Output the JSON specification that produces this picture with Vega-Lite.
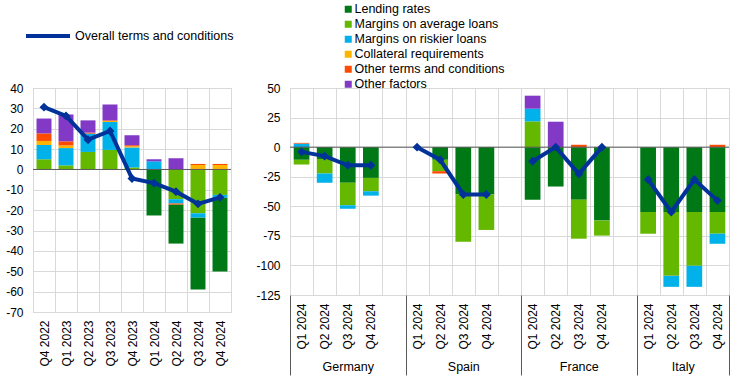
{
  "$schema": "https://vega.github.io/schema/vega-lite/v6.json",
  "padding": {"left": 5, "top": 2, "right": 5, "bottom": 0},
  "background": "white",
  "config": {
    "font": "Liberation Sans",
    "view": {"stroke": "#d9d9d9"},
    "axis": {"labelFont": "Liberation Sans", "labelFontSize": 12, "labelColor": "#000000", "gridColor": "#d9d9d9", "domain": false, "ticks": false},
    "legend": {"labelFont": "Liberation Sans", "labelFontSize": 12.5, "labelColor": "#000000"}
  },
  "datasets": {
    "left": [
      {"q": "Q4 2022", "f": "Margins on average loans", "v": 5},
      {"q": "Q4 2022", "f": "Margins on riskier loans", "v": 7},
      {"q": "Q4 2022", "f": "Collateral requirements", "v": 2},
      {"q": "Q4 2022", "f": "Other terms and conditions", "v": 3.7},
      {"q": "Q4 2022", "f": "Other factors", "v": 7.3},
      {"q": "Q1 2023", "f": "Margins on average loans", "v": 2},
      {"q": "Q1 2023", "f": "Margins on riskier loans", "v": 8.5},
      {"q": "Q1 2023", "f": "Collateral requirements", "v": 1.3},
      {"q": "Q1 2023", "f": "Other terms and conditions", "v": 2},
      {"q": "Q1 2023", "f": "Other factors", "v": 13.2},
      {"q": "Q2 2023", "f": "Margins on average loans", "v": 8.6},
      {"q": "Q2 2023", "f": "Margins on riskier loans", "v": 9},
      {"q": "Q2 2023", "f": "Other terms and conditions", "v": 0.5},
      {"q": "Q2 2023", "f": "Other factors", "v": 6},
      {"q": "Q3 2023", "f": "Margins on average loans", "v": 9.6},
      {"q": "Q3 2023", "f": "Margins on riskier loans", "v": 13.7},
      {"q": "Q3 2023", "f": "Collateral requirements", "v": 0.5},
      {"q": "Q3 2023", "f": "Other terms and conditions", "v": 0.3},
      {"q": "Q3 2023", "f": "Other factors", "v": 7.8},
      {"q": "Q4 2023", "f": "Margins on average loans", "v": 1},
      {"q": "Q4 2023", "f": "Margins on riskier loans", "v": 9.8},
      {"q": "Q4 2023", "f": "Collateral requirements", "v": 0.6},
      {"q": "Q4 2023", "f": "Other terms and conditions", "v": 0.5},
      {"q": "Q4 2023", "f": "Other factors", "v": 4.9},
      {"q": "Q1 2024", "f": "Lending rates", "v": -22.6},
      {"q": "Q1 2024", "f": "Margins on riskier loans", "v": 4},
      {"q": "Q1 2024", "f": "Other factors", "v": 1},
      {"q": "Q2 2024", "f": "Lending rates", "v": -19.2},
      {"q": "Q2 2024", "f": "Margins on average loans", "v": -14.6},
      {"q": "Q2 2024", "f": "Margins on riskier loans", "v": -2.1},
      {"q": "Q2 2024", "f": "Other terms and conditions", "v": -0.5},
      {"q": "Q2 2024", "f": "Other factors", "v": 5.5},
      {"q": "Q3 2024", "f": "Lending rates", "v": -35.3},
      {"q": "Q3 2024", "f": "Margins on average loans", "v": -21.5},
      {"q": "Q3 2024", "f": "Margins on riskier loans", "v": -2.1},
      {"q": "Q3 2024", "f": "Collateral requirements", "v": 2.2},
      {"q": "Q3 2024", "f": "Other terms and conditions", "v": 0.5},
      {"q": "Q4 2024", "f": "Lending rates", "v": -36.3},
      {"q": "Q4 2024", "f": "Margins on average loans", "v": -12.5},
      {"q": "Q4 2024", "f": "Margins on riskier loans", "v": -1.3},
      {"q": "Q4 2024", "f": "Collateral requirements", "v": 2.2},
      {"q": "Q4 2024", "f": "Other terms and conditions", "v": 0.5},
      {"q": "Q4 2022", "f": "Overall terms and conditions", "v": 30.6},
      {"q": "Q1 2023", "f": "Overall terms and conditions", "v": 26.3},
      {"q": "Q2 2023", "f": "Overall terms and conditions", "v": 14.6},
      {"q": "Q3 2023", "f": "Overall terms and conditions", "v": 18.9},
      {"q": "Q4 2023", "f": "Overall terms and conditions", "v": -4.4},
      {"q": "Q1 2024", "f": "Overall terms and conditions", "v": -6.7},
      {"q": "Q2 2024", "f": "Overall terms and conditions", "v": -10.9},
      {"q": "Q3 2024", "f": "Overall terms and conditions", "v": -16.9},
      {"q": "Q4 2024", "f": "Overall terms and conditions", "v": -13.7}
    ],
    "right": [
      {"c": "Germany", "q": "Q1 2024", "f": "Lending rates", "v": -10.7},
      {"c": "Germany", "q": "Q1 2024", "f": "Margins on average loans", "v": -4},
      {"c": "Germany", "q": "Q1 2024", "f": "Margins on riskier loans", "v": 3},
      {"c": "Germany", "q": "Q1 2024", "f": "Other terms and conditions", "v": 0.6},
      {"c": "Germany", "q": "Q2 2024", "f": "Lending rates", "v": -10},
      {"c": "Germany", "q": "Q2 2024", "f": "Margins on average loans", "v": -12.3},
      {"c": "Germany", "q": "Q2 2024", "f": "Margins on riskier loans", "v": -7.8},
      {"c": "Germany", "q": "Q3 2024", "f": "Lending rates", "v": -30},
      {"c": "Germany", "q": "Q3 2024", "f": "Margins on average loans", "v": -19.2},
      {"c": "Germany", "q": "Q3 2024", "f": "Margins on riskier loans", "v": -2.8},
      {"c": "Germany", "q": "Q4 2024", "f": "Lending rates", "v": -26},
      {"c": "Germany", "q": "Q4 2024", "f": "Margins on average loans", "v": -11.3},
      {"c": "Germany", "q": "Q4 2024", "f": "Margins on riskier loans", "v": -3.7},
      {"c": "Spain", "q": "Q2 2024", "f": "Lending rates", "v": -10.7},
      {"c": "Spain", "q": "Q2 2024", "f": "Margins on average loans", "v": -9.6},
      {"c": "Spain", "q": "Q2 2024", "f": "Other terms and conditions", "v": -2},
      {"c": "Spain", "q": "Q3 2024", "f": "Lending rates", "v": -40},
      {"c": "Spain", "q": "Q3 2024", "f": "Margins on average loans", "v": -40},
      {"c": "Spain", "q": "Q4 2024", "f": "Lending rates", "v": -40},
      {"c": "Spain", "q": "Q4 2024", "f": "Margins on average loans", "v": -30},
      {"c": "France", "q": "Q1 2024", "f": "Lending rates", "v": -44.4},
      {"c": "France", "q": "Q1 2024", "f": "Margins on average loans", "v": 21.8},
      {"c": "France", "q": "Q1 2024", "f": "Margins on riskier loans", "v": 10.7},
      {"c": "France", "q": "Q1 2024", "f": "Other factors", "v": 11},
      {"c": "France", "q": "Q2 2024", "f": "Lending rates", "v": -33.3},
      {"c": "France", "q": "Q2 2024", "f": "Other factors", "v": 21.5},
      {"c": "France", "q": "Q3 2024", "f": "Lending rates", "v": -44.4},
      {"c": "France", "q": "Q3 2024", "f": "Margins on average loans", "v": -33},
      {"c": "France", "q": "Q3 2024", "f": "Other terms and conditions", "v": 2},
      {"c": "France", "q": "Q4 2024", "f": "Lending rates", "v": -62.1},
      {"c": "France", "q": "Q4 2024", "f": "Margins on average loans", "v": -12.7},
      {"c": "Italy", "q": "Q1 2024", "f": "Lending rates", "v": -54.8},
      {"c": "Italy", "q": "Q1 2024", "f": "Margins on average loans", "v": -18.4},
      {"c": "Italy", "q": "Q2 2024", "f": "Lending rates", "v": -54.8},
      {"c": "Italy", "q": "Q2 2024", "f": "Margins on average loans", "v": -54},
      {"c": "Italy", "q": "Q2 2024", "f": "Margins on riskier loans", "v": -9.3},
      {"c": "Italy", "q": "Q3 2024", "f": "Lending rates", "v": -54.8},
      {"c": "Italy", "q": "Q3 2024", "f": "Margins on average loans", "v": -45.5},
      {"c": "Italy", "q": "Q3 2024", "f": "Margins on riskier loans", "v": -17.8},
      {"c": "Italy", "q": "Q4 2024", "f": "Lending rates", "v": -54.8},
      {"c": "Italy", "q": "Q4 2024", "f": "Margins on average loans", "v": -18.4},
      {"c": "Italy", "q": "Q4 2024", "f": "Margins on riskier loans", "v": -8.5},
      {"c": "Italy", "q": "Q4 2024", "f": "Other terms and conditions", "v": 2},
      {"c": "Germany", "q": "Q1 2024", "f": "Overall terms and conditions", "v": -4},
      {"c": "Germany", "q": "Q2 2024", "f": "Overall terms and conditions", "v": -7.6},
      {"c": "Germany", "q": "Q3 2024", "f": "Overall terms and conditions", "v": -15.3},
      {"c": "Germany", "q": "Q4 2024", "f": "Overall terms and conditions", "v": -15.3},
      {"c": "Spain", "q": "Q1 2024", "f": "Overall terms and conditions", "v": 0},
      {"c": "Spain", "q": "Q2 2024", "f": "Overall terms and conditions", "v": -10.7},
      {"c": "Spain", "q": "Q3 2024", "f": "Overall terms and conditions", "v": -40},
      {"c": "Spain", "q": "Q4 2024", "f": "Overall terms and conditions", "v": -40},
      {"c": "France", "q": "Q1 2024", "f": "Overall terms and conditions", "v": -11.9},
      {"c": "France", "q": "Q2 2024", "f": "Overall terms and conditions", "v": 0},
      {"c": "France", "q": "Q3 2024", "f": "Overall terms and conditions", "v": -22.6},
      {"c": "France", "q": "Q4 2024", "f": "Overall terms and conditions", "v": 0},
      {"c": "Italy", "q": "Q1 2024", "f": "Overall terms and conditions", "v": -27.4},
      {"c": "Italy", "q": "Q2 2024", "f": "Overall terms and conditions", "v": -54.8},
      {"c": "Italy", "q": "Q3 2024", "f": "Overall terms and conditions", "v": -27.4},
      {"c": "Italy", "q": "Q4 2024", "f": "Overall terms and conditions", "v": -45.2}
    ]
  },
  "bounds": "flush",
  "spacing": 59,
  "resolve": {
    "scale": {"fill": "independent", "stroke": "independent"},
    "legend": {"fill": "independent", "stroke": "independent"}
  },
  "hconcat": [
    {
      "data": {"name": "left"},
      "width": 198,
      "height": 224,
      "encoding": {
        "x": {
          "field": "q", "type": "nominal",
          "sort": ["Q4 2022", "Q1 2023", "Q2 2023", "Q3 2023", "Q4 2023", "Q1 2024", "Q2 2024", "Q3 2024", "Q4 2024"],
          "scale": {"paddingInner": 0, "paddingOuter": 0},
          "axis": {"title": null, "labelAngle": -90, "labelPadding": 8, "grid": true, "tickBand": "extent", "ticks": false, "domain": false, "labelOverlap": false}
        },
        "y": {
          "field": "v", "type": "quantitative",
          "scale": {"domain": [-70, 40], "nice": false},
          "axis": {"title": null, "values": [-70, -60, -50, -40, -30, -20, -10, 0, 10, 20, 30, 40], "grid": true, "labelPadding": 10, "labelExpr": "'' + datum.value"}
        }
      },
      "layer": [
        {
          "transform": [
            {"filter": "datum.f !== 'Overall terms and conditions'"},
            {"calculate": "indexof(['Margins on average loans','Margins on riskier loans','Collateral requirements','Other terms and conditions','Other factors','Lending rates'], datum.f)", "as": "k"}
          ],
          "mark": {"type": "bar", "width": {"band": 0.68}},
          "encoding": {
            "y": {"field": "v", "type": "quantitative", "stack": "zero"},
            "fill": {
              "field": "f", "type": "nominal",
              "scale": {
                "domain": ["Lending rates", "Margins on average loans", "Margins on riskier loans", "Collateral requirements", "Other terms and conditions", "Other factors"],
                "range": ["#007816", "#65b800", "#00b1ea", "#ffb400", "#ff4b00", "#8139c6"]
              },
              "legend": {
                "title": null, "orient": "none", "legendX": 309, "legendY": -85,
                "symbolType": "square", "symbolSize": 49, "symbolStrokeWidth": 0,
                "rowPadding": 2, "labelOffset": 0
              }
            },
            "order": {"field": "k", "type": "quantitative"}
          }
        },
        {
          "transform": [{"filter": "datum.q === 'Q4 2022' && datum.f === 'Overall terms and conditions'"}],
          "mark": {"type": "rule", "color": "#595959", "strokeWidth": 1},
          "encoding": {"x": null, "y": {"datum": 0}}
        },
        {
          "transform": [{"filter": "datum.f === 'Overall terms and conditions'"}],
          "mark": {"type": "line", "strokeWidth": 4},
          "encoding": {
            "stroke": {
              "field": "f", "type": "nominal",
              "scale": {"range": ["#003299"]},
              "legend": {
                "title": null, "orient": "none", "legendX": -9, "legendY": -76,
                "symbolType": "stroke", "symbolSize": 1936, "symbolStrokeWidth": 4, "labelOffset": 3
              }
            }
          }
        },
        {
          "transform": [{"filter": "datum.f === 'Overall terms and conditions'"}],
          "mark": {"type": "point", "shape": "diamond", "filled": true, "size": 80, "color": "#003299", "opacity": 1},
          "encoding": {}
        }
      ]
    },
    {
      "data": {"name": "right"},
      "transform": [{"calculate": "datum.c + '|' + datum.q", "as": "key"}],
      "width": 439,
      "height": 207,
      "resolve": {"scale": {"x": "independent"}},
      "layer": [
        {
          "encoding": {
            "x": {
              "field": "key", "type": "nominal",
              "scale": {
                "domain": ["Germany|Q1 2024", "Germany|Q2 2024", "Germany|Q3 2024", "Germany|Q4 2024", "Germany| ",
                           "Spain|Q1 2024", "Spain|Q2 2024", "Spain|Q3 2024", "Spain|Q4 2024", "Spain| ",
                           "France|Q1 2024", "France|Q2 2024", "France|Q3 2024", "France|Q4 2024", "France| ",
                           "Italy|Q1 2024", "Italy|Q2 2024", "Italy|Q3 2024", "Italy|Q4 2024"],
                "paddingInner": 0, "paddingOuter": 0
              },
              "axis": {
                "title": null, "orient": "bottom", "labelAngle": -90, "labelPadding": 8, "grid": true, "tickBand": "extent",
                "ticks": false, "domain": false, "labelOverlap": false,
                "labelExpr": "split(datum.value, '|')[1]"
              }
            },
            "y": {
              "field": "v", "type": "quantitative",
              "scale": {"domain": [-125, 50], "nice": false},
              "axis": {"title": null, "values": [-125, -100, -75, -50, -25, 0, 25, 50], "grid": true, "labelPadding": 10, "labelExpr": "'' + datum.value"}
            }
          },
          "layer": [
            {
              "transform": [
                {"filter": "datum.f !== 'Overall terms and conditions'"},
                {"calculate": "indexof(['Lending rates','Margins on average loans','Margins on riskier loans','Collateral requirements','Other terms and conditions','Other factors'], datum.f)", "as": "k"}
              ],
              "mark": {"type": "bar", "width": {"band": 0.68}},
              "encoding": {
                "y": {"field": "v", "type": "quantitative", "stack": "zero"},
                "fill": {
                  "field": "f", "type": "nominal",
                  "scale": {
                    "domain": ["Lending rates", "Margins on average loans", "Margins on riskier loans", "Collateral requirements", "Other terms and conditions", "Other factors"],
                    "range": ["#007816", "#65b800", "#00b1ea", "#ffb400", "#ff4b00", "#8139c6"]
                  },
                  "legend": null
                },
                "order": {"field": "k", "type": "quantitative"}
              }
            },
            {
              "transform": [{"filter": "datum.key === 'Germany|Q1 2024' && datum.f === 'Overall terms and conditions'"}],
              "mark": {"type": "rule", "color": "#595959", "strokeWidth": 1},
              "encoding": {"x": null, "y": {"datum": 0}}
            },
            {
              "transform": [{"filter": "datum.f === 'Overall terms and conditions'"}],
              "mark": {"type": "line", "strokeWidth": 4, "color": "#003299"},
              "encoding": {"detail": {"field": "c", "type": "nominal"}}
            },
            {
              "transform": [{"filter": "datum.f === 'Overall terms and conditions'"}],
              "mark": {"type": "point", "shape": "diamond", "filled": true, "size": 80, "color": "#003299", "opacity": 1},
              "encoding": {}
            }
          ]
        },
        {
          "transform": [{"filter": "datum.f === 'Overall terms and conditions'"}],
          "mark": {"type": "point", "opacity": 0},
          "encoding": {
            "x": {
              "field": "key", "type": "nominal",
              "scale": {
                "domain": ["Germany|Q1 2024", "Germany|Q2 2024", "Germany|Q3 2024", "Germany|Q4 2024", "Germany| ",
                           "Spain|Q1 2024", "Spain|Q2 2024", "Spain|Q3 2024", "Spain|Q4 2024", "Spain| ",
                           "France|Q1 2024", "France|Q2 2024", "France|Q3 2024", "France|Q4 2024", "France| ",
                           "Italy|Q1 2024", "Italy|Q2 2024", "Italy|Q3 2024", "Italy|Q4 2024"],
                "paddingInner": 0, "paddingOuter": 0
              },
              "axis": {
                "title": null, "orient": "bottom", "labelAngle": 0, "grid": false, "domain": false, "ticks": true,
                "tickSize": 80, "tickBand": "extent", "labelPadding": -15, "labelBaseline": "top",
                "labelOverlap": false, "labelBound": false, "labelFontSize": 12.5,
                "tickColor": {"condition": {"test": "indexof(['Germany| ','Spain| ','France| ','Italy|Q4 2024'], datum.value) >= 0 || !datum.value", "value": "#595959"}, "value": "transparent"},
                "labelOffset": {"condition": {"test": "datum.value === 'Italy|Q3 2024'", "value": -11.55}, "value": 0},
                "labelExpr": "datum.value === 'Germany|Q3 2024' ? 'Germany' : datum.value === 'Spain|Q3 2024' ? 'Spain' : datum.value === 'France|Q3 2024' ? 'France' : datum.value === 'Italy|Q3 2024' ? 'Italy' : ''"
              }
            }
          }
        }
      ]
    }
  ]
}
